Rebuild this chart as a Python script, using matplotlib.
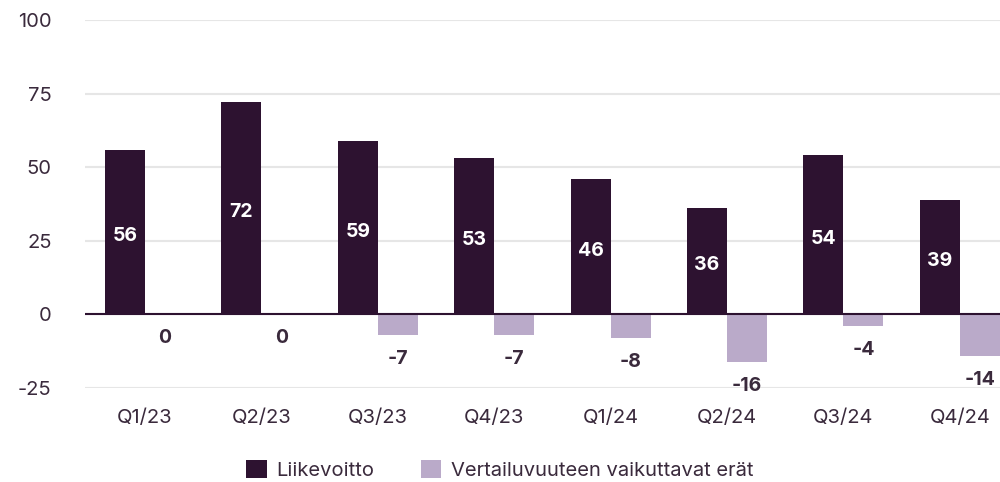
import matplotlib.pyplot as plt
import numpy as np

quarters = ["Q1/23", "Q2/23", "Q3/23", "Q4/23", "Q1/24", "Q2/24", "Q3/24", "Q4/24"]
liikevoitto = [56, 72, 59, 53, 46, 36, 54, 39]
vertailu = [0, 0, -7, -7, -8, -16, -4, -14]

dark = "#2d1230"
light = "#baaac9"
txt = "#3a2a3c"

plt.rcParams['font.family'] = ['Inter', 'DejaVu Sans']
plt.rcParams['axes.unicode_minus'] = False

fig = plt.figure(figsize=(10, 4.82), dpi=100)
ax = fig.add_axes([0.085, 0.195, 0.915, 0.7635])

x = np.arange(len(quarters))
w = 0.344
b1 = ax.bar(x - w / 2, liikevoitto, w, color=dark, label="Liikevoitto", zorder=3)
b2 = ax.bar(x + w / 2, vertailu, w, color=light, label="Vertailuvuuteen vaikuttavat erät", zorder=3)

# labels in the middle of the dark bars, below the light ones
for rect, v in zip(b1, liikevoitto):
    ax.annotate(str(v), (rect.get_x() + rect.get_width() / 2, v / 2), xytext=(0, -4),
                textcoords="offset pixels", ha="center", va="center",
                color="white", fontsize=14, fontweight="bold", zorder=4)
for rect, v in zip(b2, vertailu):
    ax.annotate(str(v), (rect.get_x() + rect.get_width() / 2, v), xytext=(0, -24),
                textcoords="offset pixels", ha="center", va="center",
                color=txt, fontsize=14, fontweight="bold", zorder=4)

ax.set_ylim(-25, 100)
ax.set_xlim(-0.515, 7.345)
ax.set_yticks([-25, 0, 25, 50, 75, 100])
ax.set_xticks(x)
ax.set_xticklabels(quarters)
ax.yaxis.grid(True, color="#e6e6e6", linewidth=1.5, zorder=0)
ax.axhline(0, color=dark, linewidth=1.5, zorder=5)
for s in ax.spines.values():
    s.set_visible(False)
ax.tick_params(axis="both", length=0, labelsize=14.5, labelcolor=txt)
ax.tick_params(axis="y", pad=24)
ax.tick_params(axis="x", pad=15)

fig.legend(handles=[b1, b2], loc="center", bbox_to_anchor=(0.5, 0.025), ncol=2, frameon=False,
           fontsize=14.5, handlelength=1.0, handleheight=1.0, columnspacing=2.3, handletextpad=0.5,
           labelcolor=txt)

fig.savefig("out.png", dpi=100)
